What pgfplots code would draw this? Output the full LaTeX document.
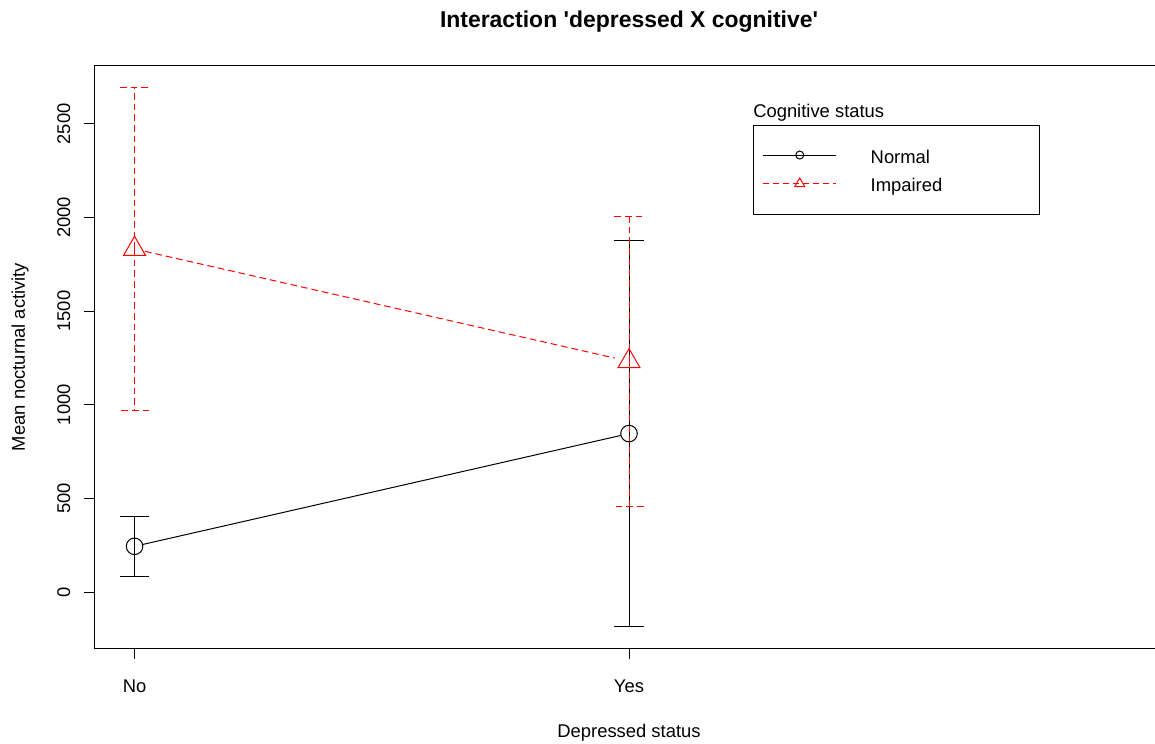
\documentclass[border=0pt]{standalone}
\usepackage{fontspec}
\setmainfont{Liberation Sans}
\newfontfamily\plainsans{Liberation Sans}
\usepackage{pgfplots}
\pgfplotsset{compat=1.18}
\definecolor{rred}{HTML}{FF0000}
\pgfplotstableread{
x  y    e
1  244  161
2  846  1030
}\normaltab
\pgfplotstableread{
x  y    e
1  1832 862
2  1232 773
}\impairedtab
\begin{document}
\begin{tikzpicture}[font=\fontsize{13.8}{16}\selectfont]
\useasboundingbox (-71.25pt,-71.25pt) rectangle (795pt,486pt);
\begin{axis}[
  at={(0,0)}, anchor=south west,
  scale only axis, width=801pt, height=436.5pt,
  xmin=0.92, xmax=3.08, ymin=-299, ymax=2809,
  xtick={1,2}, xticklabels={No,Yes},
  ytick={0,500,1000,1500,2000,2500},
  tick align=outside, major tick length=8.25pt,
  tick pos=left,
  tick style={black, line width=0.75pt},
  axis line style={line width=0.75pt},
  /pgf/number format/assume math mode=true,
  /pgf/number format/1000 sep={},
  xticklabel style={anchor=base, yshift=-24.75pt},
  yticklabel style={xshift=-10.5pt, rotate=90, anchor=base},
  title={{\plainsans\bfseries Interaction \textquotesingle depressed X cognitive\textquotesingle}},
  title style={at={(axis description cs:0.5,1)}, anchor=base, yshift=22.5pt, font=\fontsize{17.2}{20}\selectfont},
  xlabel={Depressed status},
  xlabel style={at={(axis description cs:0.5,0)}, anchor=base, yshift=-66.75pt},
  ylabel={Mean nocturnal activity},
  ylabel style={at={([xshift=-52.5pt]axis description cs:0,0.5)}, anchor=base},
  legend style={at={(rel axis cs:0.6252,0.8603)}, anchor=north west, draw=none, fill=none,
    inner sep=0pt, outer sep=0pt, row sep=6.5pt, column sep=25.5pt,
    nodes={inner sep=0pt, anchor=base west, text height=12pt, text depth=3pt}},
]
% Normal
\addplot[black, line width=0.75pt, shorten <=6.4pt, shorten >=6.4pt, forget plot] table[x=x,y=y] {\normaltab};
\addplot[black, line width=0.75pt, only marks, mark=o, mark size=6.2pt, forget plot,
  error bars/.cd, y dir=both, y explicit, error mark=|,
  error bar style={black, line width=0.75pt},
  error mark options={black, line width=0.75pt, mark size=11pt}]
  table[x=x, y=y, y error=e] {\normaltab};
% Impaired
\addplot[rred, line width=0.75pt, dash pattern=on 5pt off 3pt, shorten <=8pt, shorten >=11pt, forget plot] table[x=x,y=y] {\impairedtab};
\addplot[rred, line width=0.75pt, only marks, mark=triangle, mark size=9.5pt, forget plot,
  error bars/.cd, y dir=both, y explicit, error mark=|,
  error bar style={rred, line width=0.75pt, dash pattern=on 5pt off 3pt},
  error mark options={rred, line width=0.75pt, mark size=11pt, dash pattern=on 5pt off 3pt}]
  table[x=x, y=y, y error=e] {\impairedtab};
% legend
\addlegendimage{legend image code/.code={
  \draw[black, line width=0.75pt] (0pt,6.2pt) -- (54.75pt,6.2pt);
  \draw[black, line width=0.75pt, fill=white] plot[mark=o, mark size=3pt, mark options={fill=white}] coordinates {(27.4pt,6.2pt)};
}}
\addlegendentry{Normal}
\addlegendimage{legend image code/.code={
  \draw[rred, line width=0.75pt, dash pattern=on 4.5pt off 3pt] (0pt,6.2pt) -- (54.75pt,6.2pt);
  \draw[rred, line width=0.75pt] plot[mark=triangle, mark size=4.3pt, mark options={solid, fill=white}] coordinates {(27.4pt,6.2pt)};
}}
\addlegendentry{Impaired}
\draw[black, line width=0.75pt] (rel axis cs:0.6161,0.8986) rectangle (rel axis cs:0.8839,0.7457);
\node[anchor=base west, inner sep=0pt] at (rel axis cs:0.6161,0.9107) {Cognitive status};
\end{axis}
\end{tikzpicture}
\end{document}
